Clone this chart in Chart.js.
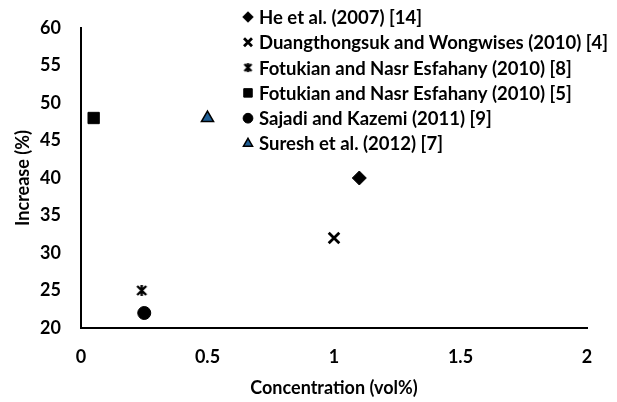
<!DOCTYPE html>
<html>
<head>
<meta charset="utf-8">
<script src="https://cdn.jsdelivr.net/npm/chart.js@4.4.1/dist/chart.umd.min.js"></script>
<style>
  html, body { margin: 0; padding: 0; background: #fff; }
  #wrap { width: 617px; height: 402px; position: relative; }
</style>
</head>
<body>
<div id="wrap"><canvas id="chart"></canvas></div>
<script>
// series labels
var labels = [
  'He et al. (2007) [14]',
  'Duangthongsuk and Wongwises (2010) [4]',
  'Fotukian and Nasr Esfahany (2010) [8]',
  'Fotukian and Nasr Esfahany (2010) [5]',
  'Sajadi and Kazemi (2011) [9]',
  'Suresh et al. (2012) [7]'
];
// concentration (vol%) and increase (%) for each study
var xValues = [1.1, 1.0, 0.24, 0.05, 0.25, 0.5];
var yValues = [40, 32, 25, 48, 22, 48];

// x ticks / y ticks
var xTicks = [0, 0.5, 1, 1.5, 2];
var yTicks = [20, 25, 30, 35, 40, 45, 50, 55, 60];

var font = "Lato";

// excel style star marker: x with a vertical bar
function starMarker(size) {
  var c = document.createElement('canvas');
  c.width = size; c.height = size;
  var g = c.getContext('2d');
  g.strokeStyle = '#000';
  g.lineWidth = 2.4;
  var p = 2, q = size - 2, m = size / 2;
  g.beginPath();
  g.moveTo(p, p); g.lineTo(q, q);
  g.moveTo(q, p); g.lineTo(p, q);
  g.moveTo(m, p - 1); g.lineTo(m, q + 1);
  g.stroke();
  return c;
}
var star = starMarker(13);
var starSmall = starMarker(11);

var styles = [
  {pointStyle: 'rectRot', radius: 7, bg: '#000', border: '#000', bw: 1},
  {pointStyle: 'crossRot', radius: 7.5, bg: '#000', border: '#000', bw: 2.8},
  {pointStyle: star, legendStyle: starSmall, radius: 6, bg: '#000', border: '#000', bw: 1},
  {pointStyle: 'rect', radius: 8, bg: '#000', border: '#000', bw: 1},
  {pointStyle: 'circle', radius: 6.5, bg: '#000', border: '#000', bw: 1},
  {pointStyle: 'triangle', radius: 7, bg: '#1f5f96', border: '#000', bw: 1.5}
];

var datasets = [];
for (var i = 0; i < labels.length; i++) {
  datasets.push({
    label: labels[i],
    data: [{x: xValues[i], y: yValues[i]}],
    pointStyle: styles[i].pointStyle,
    pointRadius: styles[i].radius,
    pointHoverRadius: styles[i].radius,
    backgroundColor: styles[i].bg,
    borderColor: styles[i].border,
    borderWidth: styles[i].bw
  });
}

// legend drawn inside the plot, top right
var insideLegend = {
  id: 'insideLegend',
  afterDraw: function(chart) {
    var ctx = chart.ctx;
    var x0 = 248, y0 = 17, step = 25.3;
    ctx.save();
    ctx.font = 'bold 18.5px ' + font;
    ctx.textBaseline = 'middle';
    chart.data.datasets.forEach(function(ds, k) {
      var y = y0 + k * step;
      var st = styles[k];
      var r = st.radius * 0.75;
      ctx.fillStyle = st.bg;
      ctx.strokeStyle = st.border;
      ctx.lineWidth = st.bw;
      Chart.helpers.drawPoint(ctx, {pointStyle: st.legendStyle || st.pointStyle, radius: r, rotation: 0, borderWidth: st.bw}, x0, y);
      ctx.fillStyle = '#000';
      ctx.fillText(ds.label, x0 + 11, y + 1);
    });
    ctx.restore();
  }
};

new Chart(document.getElementById('chart'), {
  type: 'scatter',
  data: { datasets: datasets },
  plugins: [insideLegend],
  options: {
    responsive: true,
    maintainAspectRatio: false,
    animation: false,
    layout: { padding: { top: 28, right: 30, left: 0, bottom: 0 } },
    plugins: { legend: { display: false }, tooltip: { enabled: false } },
    scales: {
      x: {
        type: 'linear',
        min: 0, max: 2,
        afterFit: function(s) { s.height = 74; },
        afterBuildTicks: function(s) { s.ticks = xTicks.map(function(v) { return {value: v}; }); },
        grid: { display: false },
        border: { display: true, color: '#000', width: 2 },
        ticks: { color: '#000', padding: 10, font: { family: font, size: 18, weight: 'bold' },
                 callback: function(v) { return String(v); } },
        title: { display: true, text: 'Concentration (vol%)', color: '#000', padding: { top: 4, bottom: 3 },
                 font: { family: font, size: 18, weight: 'bold' } }
      },
      y: {
        type: 'linear',
        min: 20, max: 60,
        afterFit: function(s) { s.width = 81; },
        afterBuildTicks: function(s) { s.ticks = yTicks.map(function(v) { return {value: v}; }); },
        grid: { display: false },
        border: { display: true, color: '#000', width: 2 },
        ticks: { color: '#000', padding: 12, font: { family: font, size: 18, weight: 'bold' },
                 callback: function(v) { return String(v); } },
        title: { display: true, text: 'Increase (%)', color: '#000', padding: { top: 12, bottom: 4 },
                 font: { family: font, size: 18, weight: 'bold' } }
      }
    }
  }
});
</script>
</body>
</html>
